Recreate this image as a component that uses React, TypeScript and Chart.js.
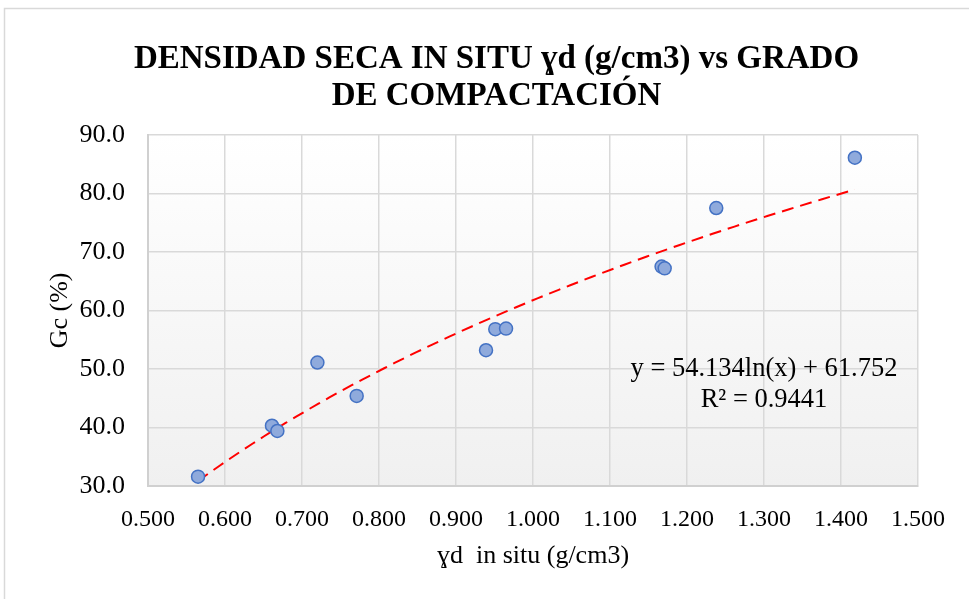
import React, { useEffect, useRef } from "react";
import { Chart, registerables } from "chart.js";

Chart.register(...registerables);

const TITLE_LINES = ["DENSIDAD SECA IN SITU ɣd (g/cm3) vs GRADO", "DE COMPACTACIÓN"];
const X_TITLE = "ɣd  in situ (g/cm3)";
const Y_TITLE = "Gc (%)";

const xValues = [0.565, 0.661, 0.668, 0.720, 0.771, 0.939, 0.951, 0.965, 1.167, 1.171, 1.238, 1.418];
const yValues = [31.6, 40.3, 39.4, 51.1, 45.4, 53.2, 56.8, 56.9, 67.5, 67.2, 77.5, 86.1];

// Logarithmic trendline shown on the chart: y = A ln(x) + B
const TREND_A = 54.134;
const TREND_B = 61.752;
const TREND_R2 = 0.9441;
const EQ_LINES = [`y = ${TREND_A.toFixed(3)}ln(x) + ${TREND_B.toFixed(3)}`, `R² = ${TREND_R2}`];
const EQ_ANCHOR = { x: 1.3, y: 47.35 };

const X_MIN = 0.5, X_MAX = 1.5, X_STEP = 0.1;
const Y_MIN = 30, Y_MAX = 90, Y_STEP = 10;

const SERIF = "'Liberation Serif', 'Times New Roman', serif";

export default function App() {
  const ref = useRef<HTMLCanvasElement | null>(null);

  useEffect(() => {
    const canvas = ref.current;
    if (!canvas) return;
    const pts = xValues.map((x, i) => ({ x, y: yValues[i] }));
    const xLo = Math.min(...xValues);
    const xHi = Math.max(...xValues);
    const trend: { x: number; y: number }[] = [];
    const n = 60;
    for (let i = 0; i <= n; i++) {
      const x = xLo + ((xHi - xLo) * i) / n;
      trend.push({ x, y: TREND_A * Math.log(x) + TREND_B });
    }

    const bgPlugin = {
      id: "bgPlugin",
      beforeDraw(chart: any) {
        const { ctx, chartArea: a } = chart;
        ctx.save();
        ctx.strokeStyle = "#d9d9d9";
        ctx.lineWidth = 1.5;
        ctx.beginPath();
        ctx.moveTo(4.5, 640);
        ctx.lineTo(4.5, 8.5);
        ctx.lineTo(1000, 8.5);
        ctx.stroke();
        const g = ctx.createLinearGradient(0, a.top, 0, a.bottom);
        g.addColorStop(0, "#ffffff");
        g.addColorStop(1, "#f0f0f0");
        ctx.fillStyle = g;
        ctx.fillRect(a.left, a.top, a.right - a.left, a.bottom - a.top);
        ctx.restore();
      },
    };

    const eqPlugin = {
      id: "eqPlugin",
      afterDatasetsDraw(chart: any) {
        const { ctx, scales } = chart;
        const cx = scales.x.getPixelForValue(EQ_ANCHOR.x);
        const cy = scales.y.getPixelForValue(EQ_ANCHOR.y);
        ctx.save();
        ctx.font = `26.5px ${SERIF}`;
        ctx.fillStyle = "#000";
        ctx.textAlign = "center";
        ctx.textBaseline = "middle";
        ctx.fillText(EQ_LINES[0], cx, cy - 15.5);
        ctx.fillText(EQ_LINES[1], cx, cy + 15.5);
        ctx.restore();
      },
    };

    const chart = new Chart(canvas, {
      type: "scatter",
      data: {
        datasets: [
          {
            label: "Gc",
            data: pts,
            pointRadius: 6.5,
            pointBackgroundColor: "#8faadc",
            pointBorderColor: "#4472c4",
            pointBorderWidth: 1.5,
            showLine: false,
            order: 1,
          },
          {
            label: "Tendencia",
            data: trend,
            type: "line",
            showLine: true,
            pointRadius: 0,
            borderColor: "#ff0000",
            borderWidth: 2,
            borderDash: [12, 7],
            fill: false,
            order: 2,
          },
        ],
      },
      options: {
        responsive: false,
        animation: false,
        layout: { padding: { left: 24, top: 0, right: 0, bottom: 0 } },
        plugins: {
          legend: { display: false },
          tooltip: { enabled: false },
          title: {
            display: true,
            text: TITLE_LINES,
            color: "#000",
            font: { family: SERIF, size: 33, weight: "bold", lineHeight: 1.15 },
            padding: { top: 40, bottom: 19 },
          },
        },
        scales: {
          x: {
            type: "linear",
            min: X_MIN,
            max: X_MAX,
            afterFit(scale: any) {
              scale.height = 113;
            },
            ticks: {
              stepSize: X_STEP,
              color: "#000",
              padding: 19,
              maxRotation: 0,
              autoSkip: false,
              font: { family: SERIF, size: 24 },
              callback: (v: any) => Number(v).toFixed(3),
            },
            grid: { color: "#d9d9d9", lineWidth: 1.5, drawTicks: false },
            border: { color: "#d0d0d0", width: 2 },
            title: {
              display: true,
              text: X_TITLE,
              color: "#000",
              font: { family: SERIF, size: 26, lineHeight: 1.2 },
              padding: { top: 0, bottom: 27 },
            },
          },
          y: {
            type: "linear",
            min: Y_MIN,
            max: Y_MAX,
            afterFit(scale: any) {
              scale.width = 124;
            },
            ticks: {
              stepSize: Y_STEP,
              color: "#000",
              padding: 23,
              font: { family: SERIF, size: 26 },
              callback: (v: any) => Number(v).toFixed(1),
            },
            grid: { color: "#d9d9d9", lineWidth: 1.5, drawTicks: false },
            border: { color: "#d0d0d0", width: 2 },
            title: {
              display: true,
              text: Y_TITLE,
              color: "#000",
              font: { family: SERIF, size: 26, lineHeight: 1.2 },
              padding: { top: 21, bottom: 0 },
            },
          },
          yRight: {
            type: "linear",
            position: "right",
            min: Y_MIN,
            max: Y_MAX,
            display: true,
            afterFit(scale: any) {
              scale.width = 51;
            },
            ticks: { display: false },
            grid: { display: false, drawTicks: false },
            border: { display: false },
          },
        },
      },
      plugins: [bgPlugin, eqPlugin],
    } as any);

    return () => chart.destroy();
  }, []);

  return (
    <div style={{ position: "absolute", left: 0, top: 0, width: 969, height: 599, background: "#fff" }}>
      <canvas ref={ref} width={969} height={599} style={{ display: "block" }} />
    </div>
  );
}
